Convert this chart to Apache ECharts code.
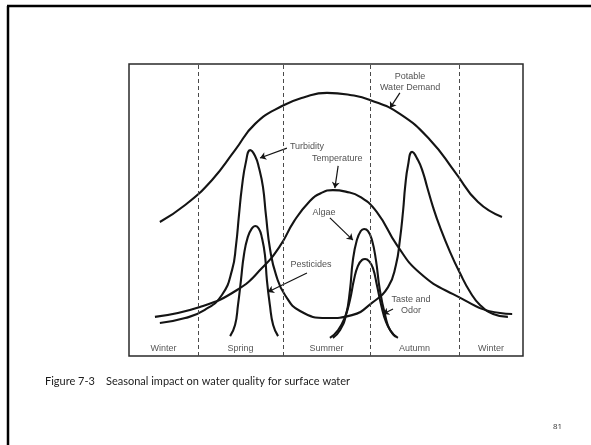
<!DOCTYPE html>
<html>
<head>
<meta charset="utf-8">
<title>Seasonal impact on water quality</title>
<script src="https://cdn.jsdelivr.net/npm/echarts/dist/echarts.min.js"></script>
<style>
  html, body { margin: 0; padding: 0; background: #fff; }
  #chart { width: 591px; height: 445px; }
</style>
</head>
<body>
<div id="chart"></div>
<script>
// Time of year in months (0–12) against a relative level (0–100).
const seasons = ['Winter', 'Spring', 'Summer', 'Autumn', 'Winter'];
const seasonBounds = [2.10, 4.69, 7.34, 10.05];

const potableDemand = [
  [0.94, 45.9], [1.71, 51.7], [2.53, 60.3], [3.23, 70.5], [3.84, 79.5],
  [4.66, 85.6], [5.36, 88.7], [6.03, 90.1], [6.73, 89.4], [7.34, 87.7],
  [8.25, 82.9], [9.17, 74.0], [9.93, 63.0], [10.63, 52.7], [11.36, 47.6]
];

const turbidity = [
  [0.94, 11.3], [1.71, 13.0], [2.31, 15.8], [2.83, 20.9], [3.14, 29.5],
  [3.26, 38.0], [3.35, 48.3], [3.44, 57.9], [3.56, 66.4], [3.69, 70.5],
  [3.84, 68.5], [3.96, 64.4], [4.08, 57.9], [4.17, 48.3], [4.30, 36.3],
  [4.48, 27.7], [4.75, 20.9], [5.21, 15.4], [6.03, 13.0], [6.79, 14.0],
  [7.40, 18.2], [7.89, 23.6], [8.13, 31.2], [8.25, 39.7], [8.35, 50.0],
  [8.41, 57.9], [8.50, 65.4], [8.62, 69.9], [8.80, 67.1], [8.95, 63.0],
  [9.08, 57.9], [9.26, 51.0], [9.47, 44.2], [9.78, 35.6], [10.08, 28.4],
  [10.39, 21.9], [10.69, 17.5], [11.09, 14.4], [11.54, 13.4]
];

const temperature = [
  [0.79, 13.4], [2.16, 16.8], [3.29, 22.6], [4.05, 30.1], [4.60, 37.7],
  [5.03, 46.2], [5.51, 53.1], [5.85, 55.8], [6.21, 56.8], [6.60, 56.3],
  [7.04, 54.5], [7.55, 49.3], [8.16, 38.0], [8.86, 28.4], [9.87, 21.2],
  [11.30, 14.7], [11.67, 14.4]
];

const pesticides = [
  [3.08, 6.8], [3.23, 10.6], [3.32, 17.5], [3.41, 26.0], [3.50, 34.6],
  [3.62, 40.8], [3.75, 43.8], [3.84, 44.5], [3.96, 43.5], [4.05, 40.4],
  [4.14, 34.6], [4.20, 26.0], [4.29, 17.5], [4.39, 10.6], [4.54, 6.8]
];

const algae = [
  [6.21, 6.2], [6.43, 8.9], [6.61, 14.0], [6.73, 22.6], [6.82, 32.9],
  [6.94, 39.7], [7.06, 42.8], [7.16, 43.5], [7.28, 42.8], [7.40, 39.7],
  [7.52, 32.9], [7.64, 22.6], [7.80, 14.0], [7.95, 8.9], [8.19, 6.2]
];

const tasteOdor = [
  [6.12, 6.2], [6.37, 8.9], [6.58, 13.4], [6.73, 19.2], [6.85, 26.0],
  [6.97, 30.8], [7.10, 32.9], [7.19, 33.2], [7.31, 32.5], [7.43, 30.1],
  [7.55, 24.3], [7.68, 17.5], [7.83, 11.6], [8.01, 7.9], [8.13, 6.5]
];

// Callout texts and their leader arrows, placed in chart coordinates.
const callouts = [
  { text: 'Potable\nWater Demand', at: [8.56, 94.0], align: 'center', from: [8.25, 90.1], to: [7.95, 84.9] },
  { text: 'Turbidity', at: [4.90, 71.6], align: 'left', from: [4.81, 71.2], to: [3.99, 67.8] },
  { text: 'Temperature', at: [6.34, 67.5], align: 'center', from: [6.37, 65.1], to: [6.27, 57.5] },
  { text: 'Algae', at: [5.94, 49.3], align: 'center', from: [6.12, 47.3], to: [6.82, 39.7] },
  { text: 'Pesticides', at: [5.54, 31.2], align: 'center', from: [5.42, 28.4], to: [4.23, 21.9] },
  { text: 'Taste and\nOdor', at: [8.59, 17.3], align: 'center', from: [8.04, 16.1], to: [7.74, 14.4] }
];

const seasonLabelLevel = 2.7;
const edges = [0].concat(seasonBounds, [12]);
const seasonLabels = seasons.map((s, i) => ({ value: [(edges[i] + edges[i + 1]) / 2, seasonLabelLevel], name: s }));

const ink = '#141414';
const fontFamily = '"Liberation Sans", Arial, sans-serif';

function curve(name, data) {
  return {
    name: name,
    type: 'line',
    data: data,
    smooth: 0.5,
    showSymbol: false,
    silent: true,
    lineStyle: { color: ink, width: 2.1 },
    z: 3
  };
}

const chart = echarts.init(document.getElementById('chart'), null, { renderer: 'canvas' });

chart.setOption({
  animation: false,
  backgroundColor: '#ffffff',
  grid: {
    show: true,
    left: 129, top: 64, width: 394, height: 292,
    borderColor: '#2a2a2a', borderWidth: 1.5,
    backgroundColor: 'transparent'
  },
  xAxis: { type: 'value', min: 0, max: 12, show: false },
  yAxis: { type: 'value', min: 0, max: 100, show: false },
  graphic: [
    // slide frame
    { type: 'line', shape: { x1: 8, y1: 6, x2: 8, y2: 445 }, style: { stroke: '#000', lineWidth: 2.5 } },
    { type: 'line', shape: { x1: 7, y1: 6, x2: 591, y2: 6 }, style: { stroke: '#000', lineWidth: 2.5 } },
    { type: 'text', left: 45, top: 376, style: { text: 'Figure 7-3', font: '11px Lato, "Open Sans", sans-serif', fill: '#1c1c1c' } },
    { type: 'text', left: 106, top: 376, style: { text: 'Seasonal impact on water quality for surface water', font: '11px Lato, "Open Sans", sans-serif', fill: '#1c1c1c' } },
    { type: 'text', left: 553, top: 423, style: { text: '81', font: '8px "Open Sans", sans-serif', fill: '#333' } }
  ],
  series: [
    {
      name: 'Seasons',
      type: 'scatter',
      data: seasonLabels,
      symbolSize: 0,
      silent: true,
      label: {
        show: true, position: 'inside', formatter: p => p.name,
        color: '#2b2b2b', fontSize: 9, fontFamily: fontFamily
      },
      markLine: {
        silent: true,
        symbol: ['none', 'none'],
        label: { show: false },
        lineStyle: { color: '#4a4a4a', width: 1, type: [4, 3] },
        data: seasonBounds.map(x => ({ xAxis: x }))
      }
    },
    curve('Potable Water Demand', potableDemand),
    curve('Turbidity', turbidity),
    curve('Temperature', temperature),
    curve('Pesticides', pesticides),
    curve('Algae', algae),
    curve('Taste and Odor', tasteOdor),
    {
      name: 'Callout arrows',
      type: 'lines',
      coordinateSystem: 'cartesian2d',
      silent: true,
      symbol: ['none', 'arrow'],
      symbolSize: 6,
      lineStyle: { color: ink, width: 1.2, opacity: 1 },
      data: callouts.map(c => ({ coords: [c.from, c.to] })),
      z: 4
    },
    {
      name: 'Callouts',
      type: 'scatter',
      symbolSize: 0,
      silent: true,
      data: callouts.map(c => ({
        value: c.at, name: c.text,
        label: c.align === 'left' ? { position: 'right', distance: 0 } : {}
      })),
      label: {
        show: true,
        position: 'inside',
        formatter: p => p.name,
        color: '#1e1e1e', fontSize: 9, lineHeight: 11, fontFamily: fontFamily
      },
      z: 5
    }
  ]
});
</script>
</body>
</html>
